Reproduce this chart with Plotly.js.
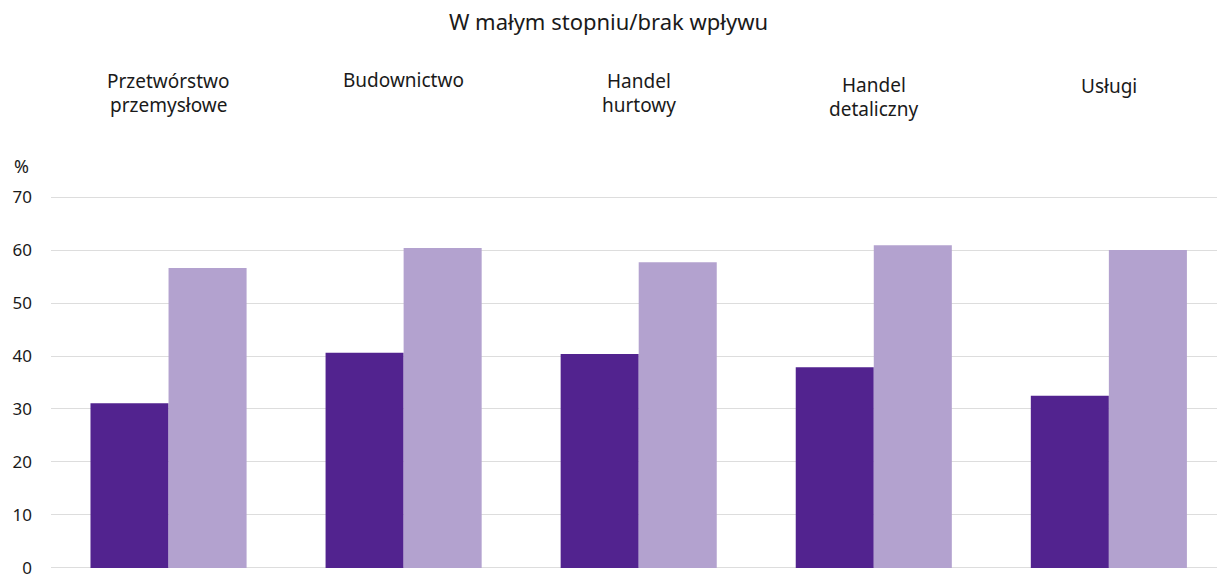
<!DOCTYPE html>
<html>
<head>
<meta charset="utf-8">
<script src="https://cdn.plot.ly/plotly-3.0.1.min.js"></script>
<style>html,body{margin:0;padding:0;background:#fff;}#chart{width:1217px;height:575px;}</style>
</head>
<body>
<div id="chart"></div>
<script>
const categories = ["Przetwórstwo<br>przemysłowe", "Budownictwo", "Handel<br>hurtowy", "Handel<br>detaliczny", "Usługi"];
const seriesA = [31.1, 40.6, 40.4, 37.9, 32.5];
const seriesB = [56.6, 60.4, 57.7, 60.9, 60.0];
const yTicks = [0, 10, 20, 30, 40, 50, 60, 70];

const xIdx = categories.map((c, i) => i);
const FONT = "Noto Sans, Open Sans, sans-serif";
const M_T = 195, M_B = 5, M_L = 51;
const PLOT_H = 575 - M_T - M_B;
// pixel top of each label box (layout only)
const labelTopPx = [66, 65, 66, 70, 71];

const traces = [
  {type: "bar", x: xIdx, y: seriesA, marker: {color: "#52238F"}, name: "A", hoverinfo: "y"},
  {type: "bar", x: xIdx, y: seriesB, marker: {color: "#B3A2CF"}, name: "B", hoverinfo: "y"}
];

const annotations = [];
categories.forEach((c, i) => {
  c.split("<br>").forEach((line, j) => {
    const topPx = labelTopPx[i] + j * 24;
    annotations.push({
      x: i, y: 1 + (M_T - topPx) / PLOT_H, xref: "x", yref: "paper", text: line, showarrow: false,
      xanchor: "center", yanchor: "top", font: {family: FONT, size: 19, color: "#1a1a1a"}
    });
  });
});
annotations.push({x: -M_L / (1217 - M_L), xshift: 12, y: 1 + (M_T - 152) / PLOT_H, xref: "paper", yref: "paper",
  text: "%", showarrow: false, xanchor: "left", yanchor: "top", font: {family: FONT, size: 18, color: "#1a1a1a"}});

const layout = {
  width: 1217, height: 575,
  margin: {l: M_L, r: 0, t: M_T, b: M_B},
  paper_bgcolor: "#fff", plot_bgcolor: "#fff",
  showlegend: false,
  barmode: "group", bargap: 0.336, bargroupgap: 0,
  title: {text: "W małym stopniu/brak wpływu", x: 0.5, xanchor: "center", y: 0.962, yanchor: "middle",
    font: {family: FONT, size: 22, color: "#1a1a1a"}},
  xaxis: {range: [-0.5, 4.46], showticklabels: false, showgrid: false, zeroline: false, fixedrange: true},
  yaxis: {range: [-0.4, 70.4], tickvals: yTicks, ticktext: yTicks.map(String), showgrid: true, gridcolor: "#DDDDDD",
    gridwidth: 1, zeroline: false, ticks: "", ticklabelstandoff: 18, ticklabeloverflow: "allow",
    tickfont: {family: FONT, size: 17, color: "#1a1a1a"}},
  annotations: annotations
};

Plotly.newPlot("chart", traces, layout, {displayModeBar: false, staticPlot: true});
</script>
</body>
</html>
